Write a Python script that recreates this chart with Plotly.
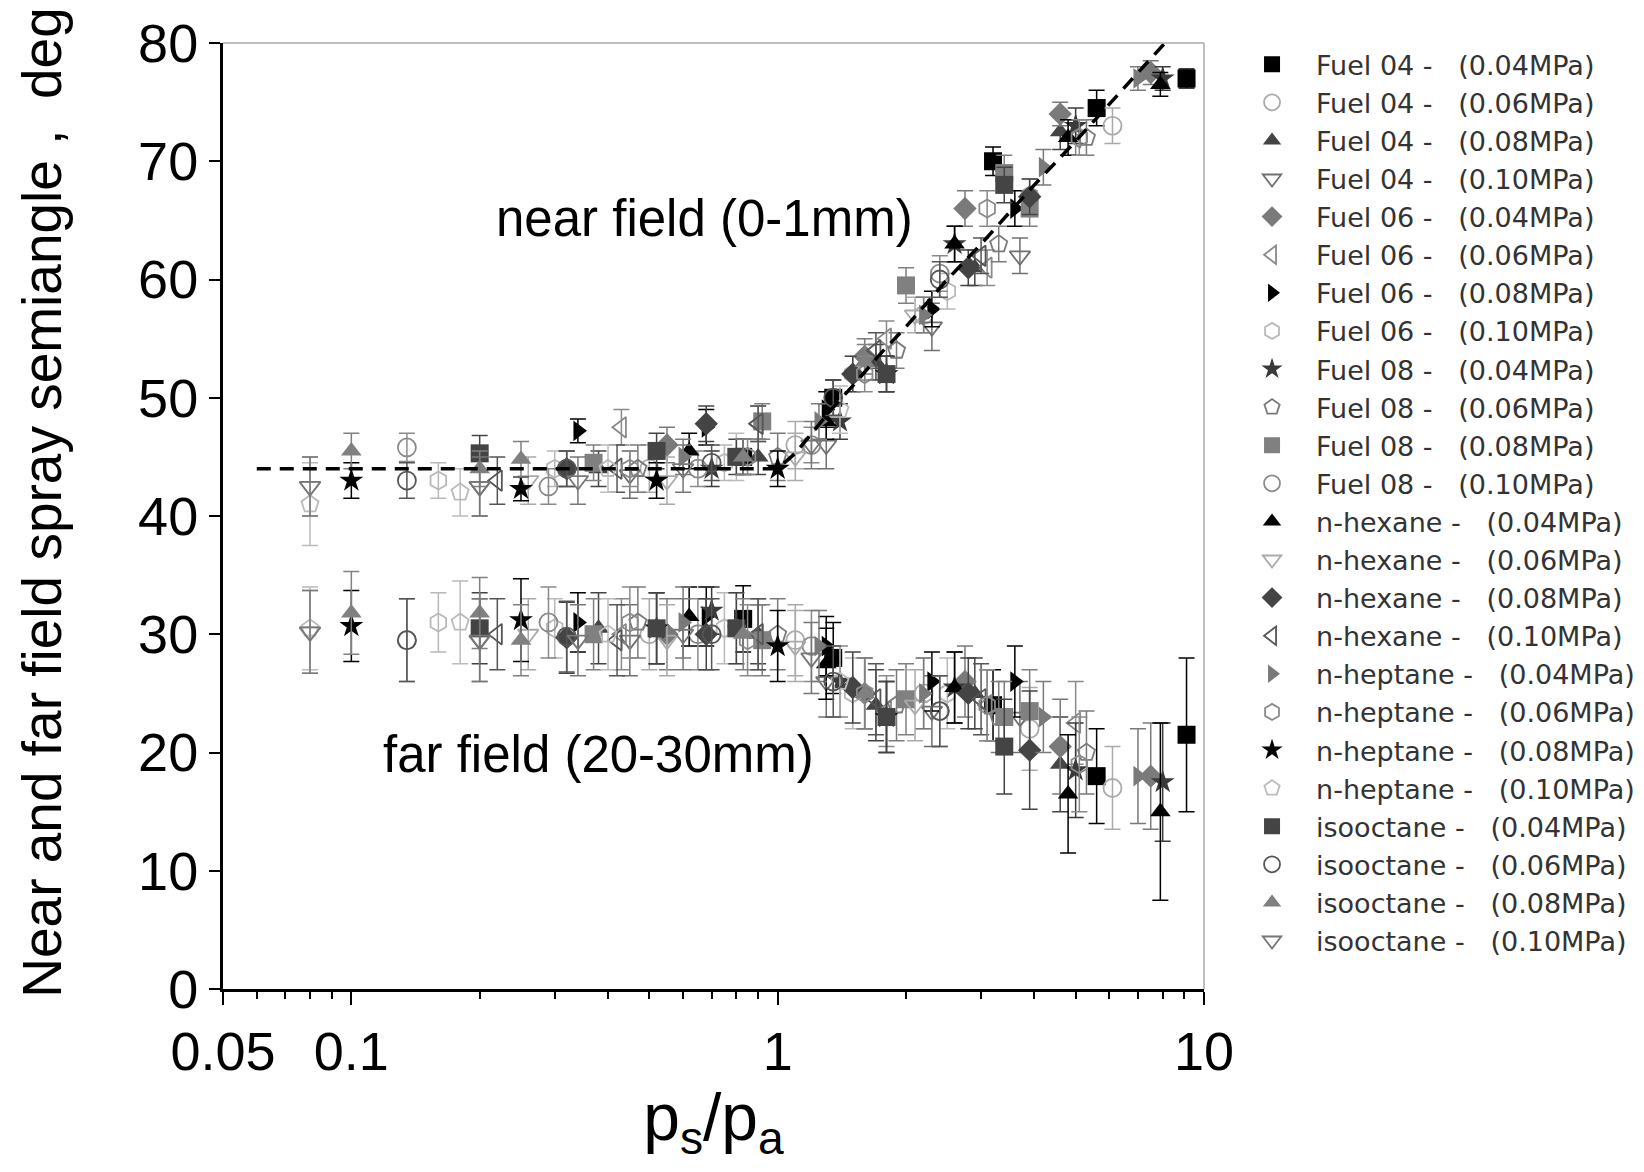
import math
import plotly.graph_objects as go

# ---------------- data ----------------
series_names = [
    "Fuel 04 -", "Fuel 04 -", "Fuel 04 -", "Fuel 04 -",
    "Fuel 06 -", "Fuel 06 -", "Fuel 06 -", "Fuel 06 -",
    "Fuel 08 -", "Fuel 08 -", "Fuel 08 -", "Fuel 08 -",
    "n-hexane -", "n-hexane -", "n-hexane -", "n-hexane -",
    "n-heptane -", "n-heptane -", "n-heptane -", "n-heptane -",
    "isooctane -", "isooctane -", "isooctane -", "isooctane -",
]
series_pressures = ["(0.04MPa)", "(0.06MPa)", "(0.08MPa)", "(0.10MPa)"] * 6

x_vals = [
    [0.83, 1.35, 3.2, 5.6, 9.1],
    [0.5, 1.1, 2.2, 3.9, 6.1],
    [0.38, 0.9, 1.7, 2.9, 4.6],
    [0.2, 0.45, 1.3, 2.3, 3.7],
    [0.55, 1.6, 2.75, 4.6, 7.5],
    [0.43, 0.9, 1.8, 3.1, 5.0],
    [0.34, 0.68, 1.3, 2.3, 3.6],
    [0.16, 0.3, 0.75, 1.5, 2.5],
    [0.7, 1.4, 2.6, 5.0, 8.0],
    [0.47, 1.0, 1.9, 3.3, 5.3],
    [0.37, 0.92, 2.0, 3.4, 3.9],
    [0.135, 0.29, 0.65, 1.2, 2.4],
    [0.62, 1.3, 2.6, 4.8, 7.9],
    [0.08, 0.26, 0.55, 1.1, 2.1],
    [0.32, 0.68, 1.5, 2.8, 3.9],
    [0.22, 0.42, 0.9, 1.7, 3.0],
    [0.6, 1.25, 2.2, 4.2, 7.0],
    [0.45, 0.85, 1.6, 3.1, 5.1],
    [0.1, 0.25, 0.52, 1.0, 1.8],
    [0.08, 0.18, 0.4, 0.8, 1.4],
    [0.2, 0.52, 0.8, 1.8, 3.4],
    [0.135, 0.32, 0.7, 1.35, 2.4],
    [0.1, 0.2, 0.25, 0.83, 1.6],
    [0.08, 0.2, 0.34, 0.6, 1.2],
]
near_vals = [
    [45, 50, 70, 74.5, 77],
    [44, 46, 57, 67, 73],
    [44, 45, 53, 61, 72.5],
    [42.5, 43.5, 46, 56, 62],
    [46, 53.5, 66, 74, 77.5],
    [47.5, 47.8, 55, 61, 72],
    [47.2, 47.5, 49, 57.5, 66],
    [43, 44, 44.5, 52, 59],
    [44, 48, 63, 73, 77],
    [44, 45, 54, 63, 72],
    [44.5, 48, 59.5, 69, 66],
    [45.8, 42.5, 44, 46, 60.5],
    [45.5, 48, 63, 72, 76.5],
    [42.5, 43, 43, 45, 57],
    [44, 47.8, 52, 61, 67],
    [43, 44, 47.8, 54, 62],
    [45, 48, 57, 69.5, 77],
    [44, 45, 52, 66, 72],
    [43, 42.3, 43, 44, 52],
    [41, 42, 44, 45, 49],
    [45.3, 45.5, 45, 52, 68],
    [43, 44, 44.5, 50, 60],
    [45.5, 44, 44.8, 45, 53],
    [42.5, 42.5, 43, 44, 46],
]
near_err = [
    [1.5, 1.5, 1.2, 1.5, 0.8],
    [2, 2, 1.5, 1.5, 1.5],
    [1.5, 1.5, 1.5, 1.5, 1.5],
    [2.5, 2, 2, 2, 1.5],
    [1.5, 1.5, 1.5, 1, 1],
    [1.5, 1.5, 1.5, 1.5, 1.5],
    [1, 1.5, 1.5, 1.5, 1.5],
    [1.5, 1.5, 1.5, 1.5, 1.5],
    [1.5, 1.5, 1.5, 1.5, 1],
    [2, 2, 1.5, 1.5, 1.5],
    [1.5, 1.5, 1.5, 1.5, 1.5],
    [1.2, 1.5, 1.5, 1.5, 1.5],
    [1.5, 1.5, 1.5, 1.5, 1],
    [2.5, 2, 2, 2, 1.5],
    [1.5, 1.5, 1.5, 1.5, 1.5],
    [2, 2, 1.5, 1.5, 1.5],
    [1.5, 1.5, 1.5, 1.5, 1],
    [1.5, 1.5, 1.5, 1.5, 1.5],
    [1.5, 1, 1.5, 1.5, 1.5],
    [3.5, 2, 2, 2, 2],
    [1.5, 1.5, 1.5, 1.5, 1.5],
    [1.5, 1.5, 1.5, 1.5, 1.5],
    [1.5, 1.5, 1.5, 1.5, 1.5],
    [2.5, 2.5, 2, 2, 2],
]
far_vals = [
    [31.3, 28, 24, 18, 21.5],
    [30, 29.5, 25, 22, 17],
    [30.5, 30, 24, 25, 19],
    [29.5, 29.5, 26, 23.5, 23],
    [30, 25, 26, 20.5, 18],
    [30, 30, 23.5, 24, 22.5],
    [31, 31.5, 29, 26, 26],
    [31, 30.5, 30.5, 25, 25],
    [32, 26, 25.5, 18.5, 17.5],
    [31, 30, 24, 23, 20],
    [30, 29.5, 24.5, 23, 23.5],
    [29.5, 31, 30, 29, 23.5],
    [31.5, 27.5, 25.5, 16.5, 15],
    [30.2, 30, 29.5, 29, 24],
    [29.7, 30, 25.5, 25, 20.2],
    [30, 29.5, 30, 24.5, 24.5],
    [31, 29, 25, 23, 18],
    [31, 29.5, 25, 24, 19],
    [30.7, 31.2, 30.5, 29, 23],
    [30.5, 31, 30, 30.5, 26],
    [30.5, 30.5, 30.5, 23, 20.5],
    [29.5, 29.8, 30, 26, 23.5],
    [31.8, 31.8, 29.5, 30, 25],
    [30.2, 29.5, 29.5, 30, 28],
]
far_err = [
    [2.8, 3, 3, 4, 6.5],
    [3, 3, 3, 3.5, 3.5],
    [3, 2.5, 3, 3, 4],
    [3.5, 3, 3, 3, 3],
    [3, 3, 3, 4, 4.5],
    [3, 3, 3, 3, 3.5],
    [2.5, 2.5, 2.5, 2.5, 3],
    [2.5, 2.5, 3, 3, 3],
    [2, 3, 3, 4, 5],
    [3, 3, 3, 3, 3.5],
    [3, 3, 3, 3, 3.5],
    [3.5, 3, 3, 3, 3],
    [2.5, 3, 3, 5, 7.5],
    [3.5, 3, 3, 3, 3],
    [3, 3, 3, 3, 5],
    [3, 3, 3, 3, 3],
    [3, 3, 3, 3, 4],
    [3, 3, 3, 3, 4],
    [3, 3.5, 3, 3, 3],
    [3.5, 3.5, 3, 3, 3],
    [3, 3, 3, 3, 4],
    [3.5, 3, 3, 3, 3],
    [3.5, 3, 3, 3, 3],
    [3.5, 3.5, 3, 3, 3],
]

# dashed trend line
fit_x = [0.06, 0.2, 0.5, 1.0, 1.1, 1.2, 1.35, 1.5, 1.75, 2.0, 2.5, 3.0, 4.0, 5.0, 6.0, 7.0, 8.1]
fit_y = [44, 44, 44, 44, 45.3, 47.0, 49.2, 51.0, 53.8, 56.0, 60.0, 63.0, 68.0, 71.7, 74.8, 77.5, 80]

x_tick_vals = [0.05, 0.1, 1, 10]
x_tick_text = ["0.05", "0.1", "1", "10"]
x_minor_vals = [0.06, 0.07, 0.08, 0.09, 0.2, 0.3, 0.4, 0.5, 0.6, 0.7, 0.8, 0.9,
                2, 3, 4, 5, 6, 7, 8, 9]
y_tick_vals = [0, 10, 20, 30, 40, 50, 60, 70, 80]

# ---------------- styles ----------------
symbols = [
    "square", "circle-open", "triangle-up", "triangle-down-open",
    "diamond", "triangle-left-open", "triangle-right", "hexagon-open",
    "star", "pentagon-open", "square", "circle-open",
    "triangle-up", "triangle-down-open", "diamond", "triangle-left-open",
    "triangle-right", "hexagon-open", "star", "pentagon-open",
    "square", "circle-open", "triangle-up", "triangle-down-open",
]
colors = [
    "#000000", "#aaaaaa", "#444444", "#707070",
    "#7a7a7a", "#8a8a8a", "#000000", "#b8b8b8",
    "#3a3a3a", "#7a7a7a", "#808080", "#8a8a8a",
    "#000000", "#aaaaaa", "#444444", "#555555",
    "#7a7a7a", "#8a8a8a", "#000000", "#bbbbbb",
    "#444444", "#555555", "#808080", "#777777",
]

FONT = "Liberation Sans, Arial, Helvetica, sans-serif"
LEG_FONT = "DejaVu Sans, Liberation Sans, sans-serif"

fig = go.Figure()

for i in range(len(series_names)):
    xs = x_vals[i] + x_vals[i]
    ys = near_vals[i] + far_vals[i]
    es = near_err[i] + far_err[i]
    open_marker = symbols[i].endswith("open")
    fig.add_trace(go.Scatter(
        x=xs, y=ys, mode="markers",
        name=series_names[i] + "\u00a0\u00a0\u00a0" + series_pressures[i],
        legendgroup="g%d" % i,
        marker=dict(symbol=symbols[i], size=18, color=colors[i],
                    line=dict(width=1.8 if open_marker else 0, color=colors[i])),
        error_y=dict(type="data", array=es, visible=True,
                     color=colors[i], thickness=1.5, width=8),
    ))

fig.add_trace(go.Scatter(
    x=fit_x, y=fit_y, mode="lines", showlegend=False,
    line=dict(color="#000000", width=3.5, dash="14px,9px"),
))

fig.update_layout(
    width=1628, height=1156,
    margin=dict(l=215, r=432, t=35, b=175, autoexpand=False),
    paper_bgcolor="white", plot_bgcolor="white",
    font=dict(family=FONT, color="#000000"),
    showlegend=True,
    legend=dict(
        x=1.0245, y=1.003, xanchor="left", yanchor="top",
        font=dict(size=27, color="#333333", family=LEG_FONT),
        itemwidth=78, tracegroupgap=0, traceorder="normal",
        bgcolor="rgba(0,0,0,0)", maxheight=1120,
    ),
    xaxis=dict(
        type="log", range=[math.log10(0.05), math.log10(10)],
        tickmode="array", tickvals=x_tick_vals, ticktext=x_tick_text,
        ticks="outside", ticklen=13, tickwidth=2, tickcolor="#000",
        tickfont=dict(size=54, family=FONT, color="#000"),
        showline=True, linecolor="#000", linewidth=3, mirror=False,
        showgrid=False, zeroline=False,
        minor=dict(tickmode="array", tickvals=x_minor_vals, ticks="outside",
                   ticklen=7, tickwidth=1.5, tickcolor="#000", showgrid=False),
        title=dict(text="p<sub>s</sub>/p<sub>a</sub>",
                   font=dict(size=66, family=FONT, color="#000"), standoff=12),
    ),
    yaxis=dict(
        range=[0, 80], tickmode="array", tickvals=y_tick_vals,
        ticks="outside", ticklen=11, tickwidth=2, tickcolor="#000",
        tickfont=dict(size=54, family=FONT, color="#000"),
        showline=True, linecolor="#000", linewidth=3, mirror=False,
        showgrid=False, zeroline=False,
    ),
    shapes=[
        dict(type="line", xref="paper", yref="paper", x0=0, x1=1, y0=1, y1=1,
             line=dict(color="#aaaaaa", width=1.5)),
        dict(type="line", xref="paper", yref="paper", x0=1, x1=1, y0=0, y1=1,
             line=dict(color="#aaaaaa", width=1.5)),
    ],
    annotations=[
        dict(x=-0.1845, y=0.514, xref="paper", yref="paper",
             xanchor="center", yanchor="middle", textangle=-90,
             text="Near and far field spray semiangle ,\u00a0\u00a0deg",
             showarrow=False, font=dict(size=55, family=FONT, color="#000")),
        dict(x=math.log10(0.675), y=65.2, xref="x", yref="y",
             text="near field (0-1mm)", showarrow=False,
             font=dict(size=51, family=FONT, color="#000")),
        dict(x=math.log10(0.379), y=19.8, xref="x", yref="y",
             text="far field (20-30mm)", showarrow=False,
             font=dict(size=51, family=FONT, color="#000")),
    ],
)

fig.write_html("out.html")
